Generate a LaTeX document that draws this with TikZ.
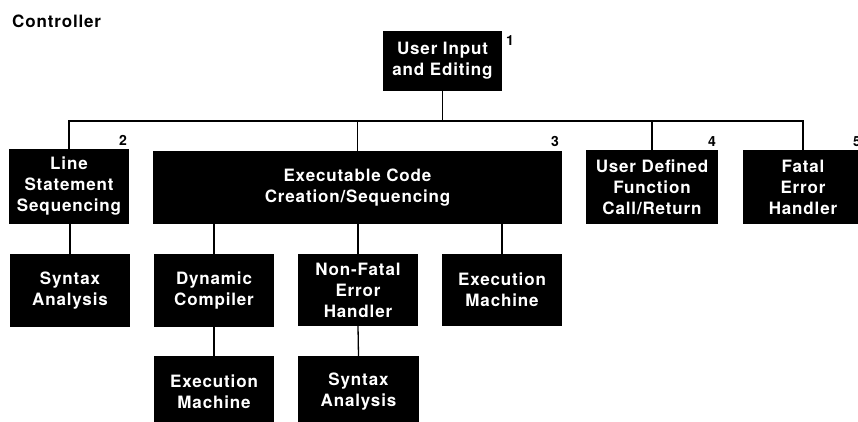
\documentclass[tikz,border=0pt]{standalone}
\usepackage{fontspec}
\setmainfont[LetterSpace=5]{TeX Gyre Heros}
\begin{document}
\begin{tikzpicture}[x=1pt,y=-1pt,
  blk/.style={fill=black, text=white, align=center, inner sep=0pt, outer sep=0pt,
    font=\fontsize{17}{21}\selectfont\bfseries},
  num/.style={anchor=base west, inner sep=0pt, font=\fontsize{14}{14}\selectfont\bfseries},
  wire/.style={line width=1.3pt}]
\clip (0,0) rectangle (858,421);
\fill[white] (0,0) rectangle (858,421);

\node[anchor=base west, inner sep=0pt, font=\fontsize{17}{21}\selectfont\bfseries] (title) at (12,27.5) {Controller};

% top level
\node[blk, minimum width=119pt, minimum height=60pt] (ui) at (442.5,61) {User Input\\and Editing};

% second level
\node[blk, minimum width=120pt, minimum height=75pt] (lss) at (69,186.5) {Line\\Statement\\Sequencing};
\node[blk, minimum width=409pt, minimum height=73pt] (ecc) at (357.5,187.5) {Executable Code\\Creation/Sequencing};
\node[blk, minimum width=132pt, minimum height=74pt] (udf) at (652,187) {User Defined\\Function\\Call/Return};
\node[blk, minimum width=120pt, minimum height=74pt] (fat) at (803,187) {Fatal\\Error\\Handler};

% third level
\node[blk, minimum width=120pt, minimum height=73pt] (sx1) at (70,290.5) {Syntax\\Analysis};
\node[blk, minimum width=120pt, minimum height=73pt] (dc) at (214,290.5) {Dynamic\\Compiler};
\node[blk, minimum width=120pt, minimum height=72pt] (nf) at (358,290) {Non-Fatal\\Error\\Handler};
\node[blk, minimum width=120pt, minimum height=72pt] (em2) at (502,290) {Execution\\Machine};

% fourth level
\node[blk, minimum width=120pt, minimum height=72pt] (em1) at (214,392) {Execution\\Machine};
\node[blk, minimum width=121pt, minimum height=72pt] (sx2) at (358.5,392) {Syntax\\Analysis};

% level numbers
\node[num] (n1) at (506,45) {1};
\node[num] (n2) at (119,145) {2};
\node[num] (n3) at (551,146) {3};
\node[num] (n4) at (708,146.5) {4};
\node[num] (n5) at (853,146.5) {5};

% bus
\coordinate (bus) at (69,121);
\draw[wire] (ui.south) -- (ui.south |- bus);
\draw[wire] (lss.north) -- (lss.north |- bus) -- (fat.north |- bus) -- (fat.north);
\draw[wire] (ecc.north) -- (ecc.north |- bus);
\draw[wire] (udf.north) -- (udf.north |- bus);

% lower connectors
\draw[wire] (sx1.north) -- (sx1.north |- lss.south);
\draw[wire] (dc.north) -- (dc.north |- ecc.south);
\draw[wire] (nf.north) -- (nf.north |- ecc.south);
\draw[wire] (em2.north) -- (em2.north |- ecc.south);
\draw[wire] (dc.south) -- (em1.north);
\draw[wire] (nf.south) -- (sx2.north);
\end{tikzpicture}
\end{document}
